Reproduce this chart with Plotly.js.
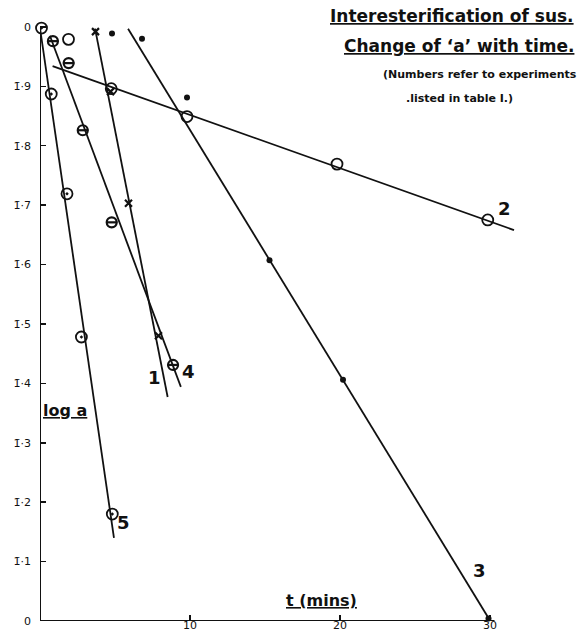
<!DOCTYPE html>
<html>
<head>
<meta charset="utf-8">
<script src="https://cdn.plot.ly/plotly-3.0.1.min.js"></script>
<style>html,body{margin:0;padding:0;background:#fff;}#chart{width:581px;height:633px;}</style>
</head>
<body>
<div id="chart"></div>
<script>
// ---- data: t (mins) and log a ----
const t1 = [3.7, 4.7, 5.9, 7.9];
const logA1 = [-0.008, -0.109, -0.297, -0.52];
const t2 = [1.9, 4.75, 9.8, 19.8, 29.85];
const logA2 = [-0.021, -0.104, -0.151, -0.231, -0.325];
const t3 = [4.8, 6.8, 9.8, 15.3, 20.2, 29.9];
const logA3 = [-0.011, -0.020, -0.119, -0.393, -0.594, -0.996];
const t4 = [0.86, 1.91, 2.85, 4.78, 8.87];
const logA4 = [-0.024, -0.061, -0.174, -0.329, -0.569];
const t5 = [0.1, 0.75, 1.8, 2.76, 4.82];
const logA5 = [-0.002, -0.113, -0.281, -0.522, -0.82];

// fitted straight lines (end points)
const fitT1 = [3.67, 8.51];   const fitLogA1 = [-0.003, -0.623];
const fitT2 = [0.84, 31.6];   const fitLogA2 = [-0.066, -0.342];
const fitT3 = [5.87, 30.0];   const fitLogA3 = [-0.003, -0.999];
const fitT4 = [0.66, 9.39];   const fitLogA4 = [-0.015, -0.606];
const fitT5 = [0.0, 4.93];    const fitLogA5 = [-0.002, -0.86];

const experimentLabels = ['1', '2', '3', '4', '5'];

// ticks
const xTickVals = [0, 10, 20, 30];
const xTickText = ['', '10', '20', '30'];
const yTickVals = [-1, -0.9, -0.8, -0.7, -0.6, -0.5, -0.4, -0.3, -0.2, -0.1, 0];
const yTickText = ['0', '1\u0304\u00b71', '1\u0304\u00b72', '1\u0304\u00b73', '1\u0304\u00b74', '1\u0304\u00b75',
                   '1\u0304\u00b76', '1\u0304\u00b77', '1\u0304\u00b78', '1\u0304\u00b79', '0'];

const FONT = 'DejaVu Sans, sans-serif';
const INK = '#111';

function fitLine(x, y) {
  return {x: x, y: y, mode: 'lines', line: {color: INK, width: 1.8}, hoverinfo: 'skip', showlegend: false};
}
function pts(x, y, symbol, size, lw) {
  return {x: x, y: y, mode: 'markers', cliponaxis: false, showlegend: false,
          marker: {symbol: symbol, size: size, color: INK, line: {color: INK, width: lw}}};
}

const traces = [
  fitLine(fitT1, fitLogA1), fitLine(fitT2, fitLogA2), fitLine(fitT3, fitLogA3),
  fitLine(fitT4, fitLogA4), fitLine(fitT5, fitLogA5),
  pts(t1, logA1, 'x-thin', 7, 2.2),
  pts(t2, logA2, 'circle-open', 11, 1.8),
  pts(t3, logA3, 'circle', 6, 0),
  pts(t4, logA4, 'circle-open', 10, 2.2),
  pts(t4, logA4, 'line-ew', 8, 2.2),
  pts(t5, logA5, 'circle-open-dot', 11, 1.8)
];

// pixel helpers for text placement
const L = 40, R = 16, T = 15, B = 12, W = 581, H = 633;
const PW = W - L - R, PH = H - T - B;
const px = v => (v - L) / PW;
const py = v => (H - B - v) / PH;

function lab(text, x, y, size, anchor) {
  return {text: text, xref: 'paper', yref: 'paper', x: px(x), y: py(y), xanchor: anchor || 'center',
          yanchor: 'middle', showarrow: false, font: {family: FONT, size: size, color: INK}};
}

// number labels at the line ends
const numPos = [[7.05, -0.59], [30.4, -0.305], [28.75, -0.915], [9.35, -0.58], [5.0, -0.835]];
const numAnns = experimentLabels.map((s, i) => ({
  text: '<b>' + s + '</b>', x: numPos[i][0], y: numPos[i][1], xref: 'x', yref: 'y',
  showarrow: false, font: {family: FONT, size: 18, color: INK}, xanchor: 'left', yanchor: 'middle'
}));

const layout = {
  width: W, height: H,
  margin: {l: L, r: R, t: T, b: B},
  paper_bgcolor: '#fff', plot_bgcolor: '#fff',
  showlegend: false,
  xaxis: {range: [0, 35], showgrid: false, zeroline: false, showline: false,
          tickvals: xTickVals, ticktext: xTickText, ticks: 'inside', ticklen: 6, tickwidth: 1.5,
          tickcolor: INK, tickfont: {family: FONT, size: 11, color: INK}, ticklabelstandoff: -4},
  yaxis: {range: [-1, 0.02], showgrid: false, zeroline: false, showline: false,
          tickvals: yTickVals, ticktext: yTickText, ticks: 'inside', ticklen: 6, tickwidth: 1.5,
          tickcolor: INK, tickfont: {family: FONT, size: 11, color: INK}, ticklabelstandoff: 8},
  shapes: [
    {type: 'line', xref: 'x', yref: 'y', x0: xTickVals[0], x1: 30.3, y0: yTickVals[0], y1: yTickVals[0],
     line: {color: INK, width: 2}},
    {type: 'line', xref: 'x', yref: 'y', x0: xTickVals[0], x1: xTickVals[0], y0: yTickVals[0], y1: 0,
     line: {color: INK, width: 2}}
  ],
  annotations: [
    lab('<b><u>Interesterification of sus.</u></b>', 576, 16, 17, 'right'),
    lab('<b><u>Change of \u2018a\u2019 with time.</u></b>', 576, 46, 17, 'right'),
    lab('<b>(Numbers refer to experiments</b>', 579, 75, 11, 'right'),
    lab('<b>.listed in table I.)</b>', 404, 98, 11, 'left'),
    lab('<b><u>log a</u></b>', 41, 410, 16, 'left'),
    lab('<b><u>t (mins)</u></b>', 321, 600, 16, 'center')
  ].concat(numAnns)
};

Plotly.newPlot('chart', traces, layout, {displayModeBar: false, staticPlot: true});
</script>
</body>
</html>
